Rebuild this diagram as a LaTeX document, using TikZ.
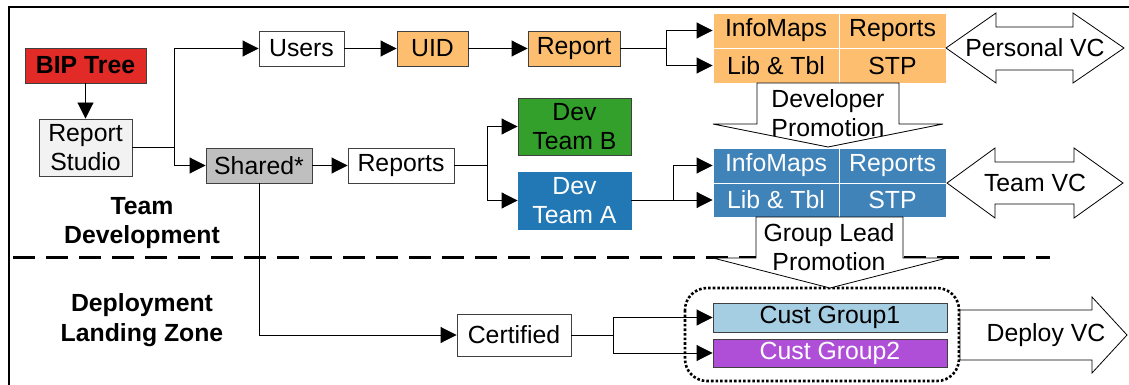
\documentclass[tikz,border=0pt]{standalone}
\usepackage{fontspec}
\setmainfont{Liberation Sans}
\usetikzlibrary{arrows.meta}
\definecolor{bipred}{RGB}{226,42,38}
\definecolor{studiogray}{RGB}{242,242,242}
\definecolor{sharedgray}{RGB}{191,191,191}
\definecolor{orangecell}{RGB}{253,191,111}
\definecolor{bluecell}{RGB}{64,131,185}
\definecolor{devgreen}{RGB}{51,160,44}
\definecolor{devblue}{RGB}{34,120,180}
\definecolor{custblue}{RGB}{166,206,227}
\definecolor{custpurple}{RGB}{175,79,216}
\definecolor{boxline}{RGB}{64,64,64}
\begin{document}
\begin{tikzpicture}[x=1pt,y=-1pt,
  font=\fontsize{24.8}{29}\selectfont,
  box/.style={draw=boxline, line width=0.9pt, inner sep=0pt, align=center},
  cell/.style={draw=white, line width=0.9pt, inner sep=0pt, align=center},
  link/.style={draw=black, line width=0.9pt},
  arr/.style={link, -{Triangle[length=16pt,width=16pt]}},
  bigarrow/.style={draw=black, fill=white, line width=0.8pt},
  lbl/.style={align=center, inner sep=0pt, font=\fontsize{24.8}{29.5}\selectfont\bfseries}]
\useasboundingbox (0,0) rectangle (1129,385);

% outer frame
\draw[line width=1.2pt] (9,385) -- (9,7) -- (1129,7);

% boundary between the two zones
\draw[line width=3pt, dash pattern=on 22pt off 11pt] (13,257) -- (1050,257);

% source boxes
\node[box, fill=bipred, minimum width=121, minimum height=35, font=\fontsize{24.8}{29}\selectfont\bfseries] (bip) at (85.5,65.5) {BIP Tree};
\node[box, fill=studiogray, minimum width=93, minimum height=57] (rs) at (85.5,147.5) {Report\\Studio};

% personal path
\node[box, fill=white, minimum width=85, minimum height=35] (users) at (301.5,48.5) {Users};
\node[box, fill=orangecell, minimum width=71, minimum height=35] (uid) at (432.5,48.5) {UID};
\node[box, fill=orangecell, minimum width=92, minimum height=35] (rep) at (574,48.5) {Report};

% shared path
\node[box, fill=sharedgray, minimum width=106, minimum height=35] (shared) at (259,165.5) {Shared*};
\node[box, fill=white, minimum width=106, minimum height=35] (reports) at (401,165.5) {Reports};
\node[box, fill=devgreen, minimum width=113, minimum height=57] (devb) at (574.5,126.5) {Dev\\Team B};
\node[box, fill=devblue, draw=devblue, text=white, minimum width=113, minimum height=57] (deva) at (574.5,200.5) {Dev\\Team A};

% personal content table
\node[cell, fill=orangecell, minimum width=126, minimum height=35] (oim) at (776,30.5) {InfoMaps};
\node[cell, fill=orangecell, minimum width=107, minimum height=35] (orp) at (892.5,30.5) {Reports};
\node[cell, fill=orangecell, minimum width=126, minimum height=35] (olt) at (776,65.5) {Lib \& Tbl};
\node[cell, fill=orangecell, minimum width=107, minimum height=35] (ostp) at (892.5,65.5) {STP};

% team content table
\node[cell, fill=bluecell, text=white, minimum width=126, minimum height=35] (bim) at (776,165.5) {InfoMaps};
\node[cell, fill=bluecell, text=white, minimum width=107, minimum height=35] (brp) at (892.5,165.5) {Reports};
\node[cell, fill=bluecell, text=white, minimum width=126, minimum height=34] (blt) at (776,200) {Lib \& Tbl};
\node[cell, fill=bluecell, text=white, minimum width=107, minimum height=34] (bstp) at (892.5,200) {STP};

% deployment path
\node[box, fill=white, minimum width=114, minimum height=42] (cert) at (514,335) {Certified};
\node[box, fill=custblue, minimum width=234, minimum height=29] (cg1) at (830,317.5) {Cust Group1};
\node[box, fill=custpurple, text=white, minimum width=234, minimum height=28] (cg2) at (830,353) {Cust Group2};
\draw[line width=2.6pt, dash pattern=on 2.6pt off 2pt, rounded corners=22pt] (685,288) rectangle (959,381);

% zone labels
\node[lbl] (tdev) at (142,223) {Team\\Development};
\node[lbl] (dlz) at (142,320) {Deployment\\Landing Zone};

% connectors
\draw[arr] (bip) -- (rs);
\coordinate (s1) at (174,147.5);
\draw[arr] (rs.east) -- (s1) |- (users.west);
\draw[arr] (s1) |- (shared.west);
\draw[arr] (users) -- (uid);
\draw[arr] (uid) -- (rep);
\coordinate (s2) at (666,48.5);
\draw[arr] (rep.east) -- (s2) |- (oim.west);
\draw[arr] (s2) |- (olt.west);
\draw[arr] (shared) -- (reports);
\coordinate (s3) at (487,165.5);
\draw[arr] (reports.east) -- (s3) |- (devb.west);
\draw[arr] (s3) |- (deva.west);
\coordinate (s4) at (673,200);
\draw[arr] (deva.east |- s4) -- (s4) |- (bim.west);
\draw[arr] (s4) -- (blt.west);
\draw[arr] (shared.south) |- (cert.west);
\coordinate (s5) at (613,335);
\draw[arr] (cert.east) -- (s5) |- (cg1.west);
\draw[arr] (s5) |- (cg2.west);

% version control exchanges
\draw[bigarrow] (946,48) -- (996,13) -- (996,27) -- (1073,27) -- (1073,13) -- (1124,48)
  -- (1073,83) -- (1073,70) -- (996,70) -- (996,83) -- cycle;
\node (pvc) at (1035,48) {Personal VC};
\draw[bigarrow] (947,183) -- (995,148) -- (995,162) -- (1074,162) -- (1074,148) -- (1123,183)
  -- (1074,218) -- (1074,204) -- (995,204) -- (995,218) -- cycle;
\node (tvc) at (1035,183) {Team VC};
\draw[bigarrow] (960,310) -- (1092,310) -- (1092,297) -- (1127,335) -- (1092,373) -- (1092,360)
  -- (960,360) -- cycle;
\node (dvc) at (1046,335) {Deploy VC};

% promotion arrows
\draw[bigarrow] (757,83) -- (899,83) -- (899,124) -- (943,124) -- (828,147) -- (713,124)
  -- (757,124) -- cycle;
\node[align=center, inner sep=0pt] (devpromo) at (828,113) {Developer\\Promotion};
\draw[bigarrow] (756,217) -- (903,217) -- (903,258) -- (947,258) -- (830,288) -- (713,258)
  -- (756,258) -- cycle;
\node[align=center, inner sep=0pt] (leadpromo) at (829,247) {Group Lead\\Promotion};
\end{tikzpicture}
\end{document}
